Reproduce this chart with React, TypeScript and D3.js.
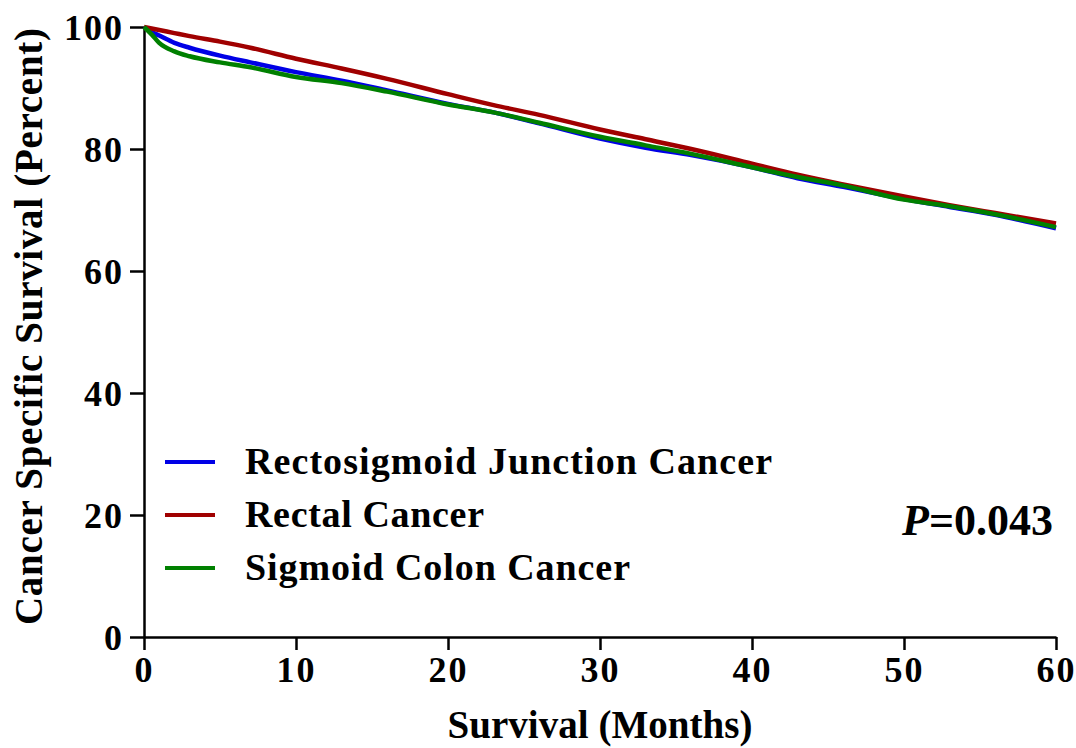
import * as d3 from "d3";
import React, { useEffect, useRef } from "react";

const rectalMonths = [0, 1, 2, 3, 5, 7, 10, 13, 16, 20, 23, 26, 30, 33, 36, 40, 43, 46, 50, 53, 56, 60];
const rectalValues = [100, 99.5, 99.0, 98.5, 97.6, 96.6, 94.8, 93.2, 91.5, 89.0, 87.2, 85.6, 83.2, 81.6, 80.0, 77.6, 75.8, 74.2, 72.2, 70.8, 69.5, 67.8];

const rectosigMonths = [0, 0.5, 1, 2, 3, 5, 7, 10, 13, 16, 20, 23, 26, 30, 33, 36, 40, 43, 46, 50, 53, 56, 60];
const rectosigValues = [100, 99.2, 98.6, 97.4, 96.6, 95.3, 94.2, 92.6, 91.2, 89.6, 87.4, 86.0, 84.2, 81.7, 80.2, 79.0, 77.0, 75.2, 73.8, 71.8, 70.5, 69.2, 67.0];

const sigmoidMonths = [0, 0.5, 1, 2, 3, 5, 7, 10, 13, 16, 20, 23, 26, 30, 33, 36, 40, 43, 46, 50, 53, 56, 60];
const sigmoidValues = [100, 98.8, 97.4, 96.0, 95.2, 94.2, 93.4, 91.8, 90.8, 89.4, 87.3, 86.0, 84.3, 82.0, 80.6, 79.2, 77.0, 75.4, 74.0, 71.7, 70.6, 69.3, 67.2];

const xTicks = [0, 10, 20, 30, 40, 50, 60];
const yTicks = [0, 20, 40, 60, 80, 100];

const seriesNames = ["Rectosigmoid Junction Cancer", "Rectal Cancer", "Sigmoid Colon Cancer"];
const seriesColors = ["#0000e6", "#a00000", "#008000"];
const legendWidths = [527, 239, 385];

function App() {
  const ref = useRef<SVGSVGElement>(null);

  useEffect(() => {
    const svg = d3.select(ref.current);
    svg.selectAll("*").remove();

    const width = 1076;
    const height = 748;
    const margin = { top: 27, left: 144, bottom: 111, right: 20 };
    const font = "'Liberation Serif', 'Times New Roman', serif";

    const x = d3.scaleLinear().domain([0, 60]).range([margin.left, 1056]);
    const y = d3.scaleLinear().domain([0, 100]).range([height - margin.bottom, margin.top]);

    // axes
    const xAxis = svg.append("g")
      .attr("transform", `translate(0, ${y(0)})`)
      .call(d3.axisBottom(x).tickValues(xTicks).tickSize(13).tickSizeOuter(0).tickPadding(6));
    const yAxis = svg.append("g")
      .attr("transform", `translate(${x(0)}, 0)`)
      .call(d3.axisLeft(y).tickValues(yTicks).tickSize(14).tickSizeOuter(0).tickPadding(6));

    [xAxis, yAxis].forEach(a => {
      a.select(".domain").attr("stroke", "#000").attr("stroke-width", 2.5);
      a.selectAll(".tick line").attr("stroke", "#000").attr("stroke-width", 2.5);
      a.selectAll(".tick text")
        .attr("fill", "#000")
        .style("font-family", font)
        .style("font-weight", "bold")
        .style("font-size", "36px")
        .style("letter-spacing", "2px");
    });
    yAxis.selectAll(".tick text").attr("dy", "0.34em");

    // curves
    const line = d3.line<[number, number]>()
      .x(d => x(d[0]))
      .y(d => y(d[1]))
      .curve(d3.curveMonotoneX);

    const series = [
      { months: sigmoidMonths, values: sigmoidValues, color: seriesColors[2] },
      { months: rectosigMonths, values: rectosigValues, color: seriesColors[0] },
      { months: rectalMonths, values: rectalValues, color: seriesColors[1] },
    ];
    // blue first, then red, then green on top as in the picture
    [series[1], series[2], series[0]].forEach(s => {
      svg.append("path")
        .datum(s.months.map((m, i) => [m, s.values[i]] as [number, number]))
        .attr("fill", "none")
        .attr("stroke", s.color)
        .attr("stroke-width", 4.5)
        .attr("d", line);
    });

    // legend
    const legend = svg.append("g");
    seriesNames.forEach((name, i) => {
      const ly = 462 + i * 53;
      legend.append("line")
        .attr("x1", 165).attr("x2", 215)
        .attr("y1", ly).attr("y2", ly)
        .attr("stroke", seriesColors[i])
        .attr("stroke-width", 4);
      legend.append("text")
        .attr("x", 245).attr("y", ly + 12)
        .attr("textLength", legendWidths[i])
        .attr("lengthAdjust", "spacing")
        .style("font-family", font)
        .style("font-weight", "bold")
        .style("font-size", "38px")
        .text(name);
    });

    // p value
    const p = svg.append("text")
      .attr("x", 1053).attr("y", 535)
      .attr("text-anchor", "end")
      .style("font-family", font)
      .style("font-weight", "bold")
      .style("font-size", "44px");
    p.append("tspan").style("font-style", "italic").text("P");
    p.append("tspan").text("=0.043");

    // axis titles
    svg.append("text")
      .attr("x", (x(0) + x(60)) / 2).attr("y", 738)
      .attr("text-anchor", "middle")
      .attr("textLength", 305)
      .attr("lengthAdjust", "spacing")
      .style("font-family", font)
      .style("font-weight", "bold")
      .style("font-size", "39px")
      .text("Survival (Months)");

    svg.append("text")
      .attr("transform", `translate(42, ${(28 + 625) / 2}) rotate(-90)`)
      .attr("text-anchor", "middle")
      .attr("textLength", 597)
      .attr("lengthAdjust", "spacing")
      .style("font-family", font)
      .style("font-weight", "bold")
      .style("font-size", "39px")
      .text("Cancer Specific Survival (Percent)");
  }, []);

  return (
    <svg
      ref={ref}
      width={1076}
      height={748}
      style={{ position: "absolute", left: 0, top: 0, background: "#fff" }}
    ></svg>
  );
}

export default App;
